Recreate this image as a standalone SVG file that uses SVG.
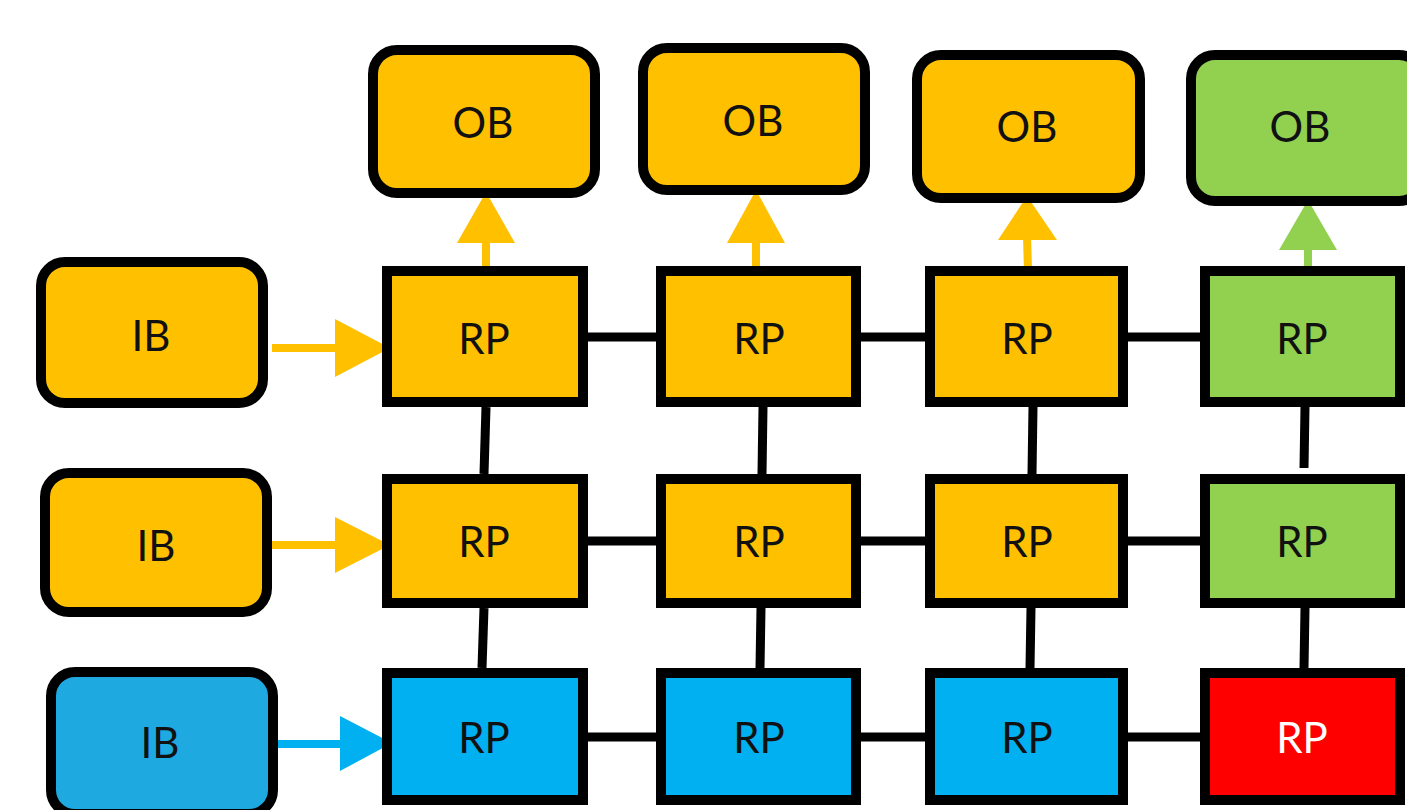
<svg xmlns="http://www.w3.org/2000/svg" width="1407" height="810" viewBox="0 0 1407 810">
  <style>
    .box { stroke: #000; stroke-width: 10; }
    .buf { stroke: #000; stroke-width: 10; }
    .org { fill: #FFC000; }
    .grn { fill: #92D050; }
    .blu { fill: #00B0F0; }
    .blu2 { fill: #1EAAE0; }
    .red { fill: #FF0000; }
    .lbl { font-family: Lato, "Open Sans", "Liberation Sans", sans-serif; font-size: 42px; fill: #111; text-anchor: middle; dominant-baseline: central; }
    .wht { fill: #fff; }
    .link { stroke: #000; stroke-width: 9; fill: none; }
    .shaft { stroke-width: 8; fill: none; }
  </style>
  <rect width="1407" height="810" fill="#fff"/>

  <!-- mesh links between routers -->
  <g id="connectors">
    <line class="link" x1="586" y1="337" x2="657" y2="337"/>
    <line class="link" x1="861" y1="337" x2="925" y2="337"/>
    <line class="link" x1="1128" y1="337" x2="1200" y2="337"/>
    <line class="link" x1="586" y1="541" x2="657" y2="541"/>
    <line class="link" x1="861" y1="541" x2="925" y2="541"/>
    <line class="link" x1="1128" y1="541" x2="1200" y2="541"/>
    <line class="link" x1="586" y1="737" x2="657" y2="737"/>
    <line class="link" x1="861" y1="737" x2="925" y2="737"/>
    <line class="link" x1="1128" y1="737" x2="1200" y2="737"/>

    <line class="link" x1="486" y1="407" x2="484" y2="474"/>
    <line class="link" x1="763" y1="407" x2="762" y2="474"/>
    <line class="link" x1="1033" y1="407" x2="1032" y2="474"/>
    <line class="link" x1="1305" y1="407" x2="1304" y2="468"/>
    <line class="link" x1="484" y1="608" x2="482" y2="668"/>
    <line class="link" x1="761" y1="608" x2="760" y2="668"/>
    <line class="link" x1="1031" y1="608" x2="1030" y2="668"/>
    <line class="link" x1="1305" y1="608" x2="1304" y2="668"/>

    <!-- input buffer arrows -->
    <line class="shaft" stroke="#FFC000" x1="272" y1="348" x2="340" y2="348"/>
    <polygon fill="#FFC000" points="335,319 390,348 335,377"/>
    <line class="shaft" stroke="#FFC000" x1="272" y1="545" x2="340" y2="545"/>
    <polygon fill="#FFC000" points="335,517 390,545 335,573"/>
    <line class="shaft" stroke="#00B0F0" x1="278" y1="744" x2="345" y2="744"/>
    <polygon fill="#00B0F0" points="340,716 392,743 340,771"/>

    <!-- output buffer arrows -->
    <line class="shaft" stroke="#FFC000" x1="486" y1="270" x2="486" y2="238"/>
    <polygon fill="#FFC000" points="457,243 486,192 515,243"/>
    <line class="shaft" stroke="#FFC000" x1="756" y1="270" x2="756" y2="238"/>
    <polygon fill="#FFC000" points="727,243 756,190 785,243"/>
    <line class="shaft" stroke="#FFC000" x1="1028" y1="270" x2="1027" y2="236"/>
    <polygon fill="#FFC000" points="998,240 1027,196 1057,240"/>
    <line class="shaft" stroke="#92D050" x1="1308" y1="270" x2="1308" y2="245"/>
    <polygon fill="#92D050" points="1279,250 1308,200 1337,250"/>
  </g>

  <!-- input buffers -->
  <g id="ib1"><rect class="buf org" x="41" y="262" width="222" height="141" rx="24"/><text class="lbl" x="151" y="335">IB</text></g>
  <g id="ib2"><rect class="buf org" x="45" y="473" width="222" height="139" rx="24"/><text class="lbl" x="156" y="545">IB</text></g>
  <g id="ib3"><rect class="buf blu2" x="51" y="672" width="222" height="142" rx="24"/><text class="lbl" x="160" y="742">IB</text></g>

  <!-- output buffers -->
  <g id="ob1"><rect class="buf org" x="373" y="50" width="222" height="143" rx="24"/><text class="lbl" x="483" y="122">OB</text></g>
  <g id="ob2"><rect class="buf org" x="643" y="48" width="222" height="142" rx="24"/><text class="lbl" x="753" y="120">OB</text></g>
  <g id="ob3"><rect class="buf org" x="917" y="55" width="223" height="143" rx="24"/><text class="lbl" x="1027" y="126">OB</text></g>
  <g id="ob4"><rect class="buf grn" x="1191" y="55" width="232" height="146" rx="24"/><text class="lbl" x="1300" y="126">OB</text></g>

  <!-- routers, row 1 -->
  <g id="rp11"><rect class="box org" x="387" y="271" width="196" height="131"/><text class="lbl" x="484" y="338">RP</text></g>
  <g id="rp12"><rect class="box org" x="661" y="271" width="195" height="131"/><text class="lbl" x="759" y="338">RP</text></g>
  <g id="rp13"><rect class="box org" x="930" y="271" width="193" height="131"/><text class="lbl" x="1027" y="338">RP</text></g>
  <g id="rp14"><rect class="box grn" x="1205" y="271" width="195" height="131"/><text class="lbl" x="1302" y="338">RP</text></g>

  <!-- routers, row 2 -->
  <g id="rp21"><rect class="box org" x="387" y="479" width="196" height="124"/><text class="lbl" x="484" y="541">RP</text></g>
  <g id="rp22"><rect class="box org" x="661" y="479" width="195" height="124"/><text class="lbl" x="759" y="541">RP</text></g>
  <g id="rp23"><rect class="box org" x="930" y="479" width="193" height="124"/><text class="lbl" x="1027" y="541">RP</text></g>
  <g id="rp24"><rect class="box grn" x="1205" y="479" width="195" height="124"/><text class="lbl" x="1302" y="541">RP</text></g>

  <!-- routers, row 3 -->
  <g id="rp31"><rect class="box blu" x="387" y="673" width="196" height="127"/><text class="lbl" x="484" y="737">RP</text></g>
  <g id="rp32"><rect class="box blu" x="661" y="673" width="195" height="127"/><text class="lbl" x="759" y="737">RP</text></g>
  <g id="rp33"><rect class="box blu" x="930" y="673" width="193" height="127"/><text class="lbl" x="1027" y="737">RP</text></g>
  <g id="rp34"><rect class="box red" x="1205" y="673" width="195" height="127"/><text class="lbl wht" x="1302" y="737">RP</text></g>
</svg>
